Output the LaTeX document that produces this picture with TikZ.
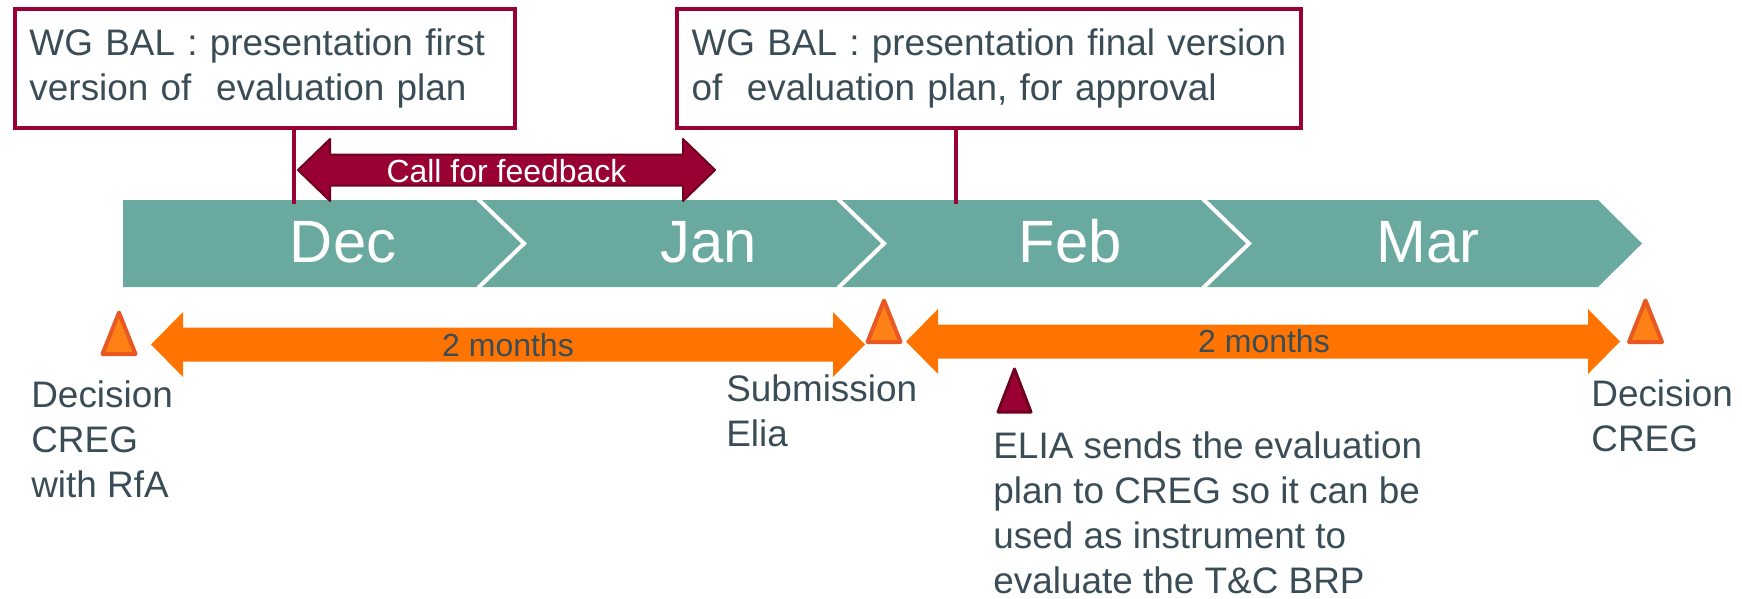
\documentclass[tikz,border=0pt]{standalone}
\usepackage{fontspec}
\setmainfont{Liberation Sans}
\definecolor{slate}{RGB}{58,77,87}
\definecolor{wine}{RGB}{153,0,51}
\definecolor{darkwine}{RGB}{110,0,32}
\definecolor{sea}{RGB}{106,169,160}
\definecolor{tangerine}{RGB}{255,116,0}
\definecolor{conefill}{RGB}{255,128,20}
\definecolor{coneline}{RGB}{232,88,34}
\begin{document}
\begin{tikzpicture}[x=0.2mm,y=-0.2mm,
  planbox/.style={draw=wine,line width=0.8mm,fill=white,minimum height=23.8mm,inner xsep=2.9mm,inner ysep=0pt,align=left,text=slate,font=\fontsize{21}{25.3}\selectfont},
  monthlabel/.style={text=white,font=\fontsize{34}{40}\selectfont,inner sep=0pt,anchor=base},
  notelabel/.style={text=slate,font=\fontsize{21}{25.6}\selectfont,inner sep=0pt,anchor=base west,align=left},
  tagtext/.style={font=\fontsize{18.2}{22}\selectfont,inner sep=0pt,anchor=base}]
\useasboundingbox (0,0) rectangle (1742,598);
\fill[sea] (123,200) -- (1598,200) -- (1642,243.5) -- (1598,287) -- (123,287) -- cycle;
\foreach \x in {478,838,1203}
  \draw[white,line width=0.8mm] (\x,199) -- (\x+46,243.5) -- (\x,288);
\foreach \m/\x in {Dec/343,Jan/709,Feb/1070,Mar/1428}
  \node[monthlabel] (\m) at (\x,262) {\m};
\coordinate (foot1) at (294,204);
\coordinate (foot2) at (956,204);
\node[planbox,minimum width=100mm,text width=94.2mm] (first) at (265,68.5) {WG BAL : presentation first\\version of\ \ evaluation plan};
\node[planbox,minimum width=124.8mm,text width=119mm] (final) at (989,68.5) {WG BAL : presentation final version\\of\ \ evaluation plan, for approval};
\draw[wine,line width=0.8mm] (first.south -| foot1) -- (foot1);
\draw[wine,line width=0.8mm] (final.south -| foot2) -- (foot2);
\filldraw[fill=wine,draw=darkwine,line width=0.4mm,line join=round] (298,170) -- (330,139) -- (330,154.5) -- (683,154.5) -- (683,139) -- (715,170) -- (683,201) -- (683,185.5) -- (330,185.5) -- (330,201) -- cycle;
\node[tagtext,text=white] (feedback) at (506.5,182) {Call for feedback};
\foreach \a/\b/\y in {151/865/344.5,906/1620/341.5}
  \fill[tangerine] (\a,\y) -- (\a+32,\y-32.5) -- (\a+32,\y-17) -- (\b-32,\y-17) -- (\b-32,\y-32.5) -- (\b,\y) -- (\b-32,\y+32.5) -- (\b-32,\y+17) -- (\a+32,\y+17) -- (\a+32,\y+32.5) -- cycle;
\node[tagtext,text=slate] (span1) at (508,356) {2 months};
\node[tagtext,text=slate] (span2) at (1264,352) {2 months};
\foreach \x/\y in {119/312.5,884/300.5,1645.5/300.5}
  \filldraw[fill=conefill,draw=coneline,line width=0.8mm,line join=round] (\x,\y) -- (\x+16.5,\y+41.5) -- (\x-16.5,\y+41.5) -- cycle;
\filldraw[fill=wine,draw=darkwine,line width=0.6mm,line join=round] (1014.5,369) -- (1031,412) -- (998,412) -- cycle;
% multi-line labels sit on the baseline of their last line
\node[notelabel] (rfa) at (31,497) {Decision\\CREG\\with RfA};
\node[notelabel] (submit) at (726,446) {Submission\\Elia};
\node[notelabel] (sends) at (993,593) {ELIA sends the evaluation\\plan to CREG so it can be\\used as instrument to\\evaluate the T\&C BRP};
\node[notelabel] (decide) at (1591,451) {Decision\\CREG};
\end{tikzpicture}
\end{document}
